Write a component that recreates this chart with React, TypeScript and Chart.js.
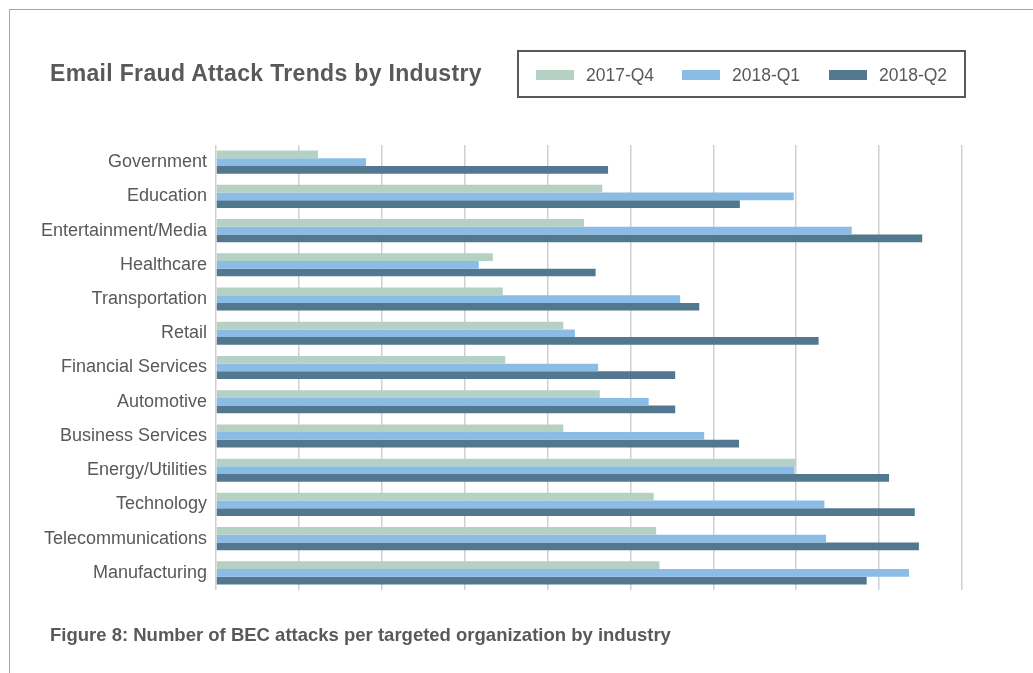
import React, { useEffect, useRef } from "react";
import { Chart, registerables } from "chart.js";

Chart.register(...registerables);

const categories = [
  "Government",
  "Education",
  "Entertainment/Media",
  "Healthcare",
  "Transportation",
  "Retail",
  "Financial Services",
  "Automotive",
  "Business Services",
  "Energy/Utilities",
  "Technology",
  "Telecommunications",
  "Manufacturing",
];

const seriesNames = ["2017-Q4", "2018-Q1", "2018-Q2"];
const seriesColors = ["#B5D1C3", "#8ABCE6", "#51788F"];

const q4_2017 = [1.23, 4.66, 4.44, 3.34, 3.46, 4.19, 3.49, 4.63, 4.19, 7.0, 5.28, 5.31, 5.35];
const q1_2018 = [1.81, 6.97, 7.67, 3.17, 5.6, 4.33, 4.61, 5.22, 5.89, 6.98, 7.34, 7.36, 8.36];
const q2_2018 = [4.73, 6.32, 8.52, 4.58, 5.83, 7.27, 5.54, 5.54, 6.31, 8.12, 8.43, 8.48, 7.85];

const xMin = 0;
const xMax = 9;

const titleText = "Email Fraud Attack Trends by Industry";
const captionText = "Figure 8: Number of BEC attacks per targeted organization by industry";

const FONT = "'Liberation Sans', Arial, Helvetica, sans-serif";

export default function App() {
  const canvasRef = useRef<HTMLCanvasElement | null>(null);

  useEffect(() => {
    const canvas = canvasRef.current;
    if (!canvas) return;
    const values = [q4_2017, q1_2018, q2_2018];
    const chart = new Chart(canvas, {
      type: "bar",
      data: {
        labels: categories,
        datasets: seriesNames.map((name, i) => ({
          label: name,
          data: values[i],
          backgroundColor: seriesColors[i],
          borderWidth: 0,
          categoryPercentage: 0.675,
          barPercentage: 1.0,
        })),
      },
      options: {
        indexAxis: "y",
        responsive: false,
        animation: false,
        devicePixelRatio: 1,
        layout: { padding: { top: 145, bottom: 83, right: 71, left: 0 } },
        plugins: {
          legend: { display: false },
          tooltip: { enabled: false },
          title: { display: false },
        },
        scales: {
          x: {
            type: "linear",
            min: xMin,
            max: xMax,
            position: "bottom",
            ticks: { display: false, stepSize: 1 },
            grid: { color: "#d0d0d0", lineWidth: 1.5, drawTicks: false },
            border: { display: false },
            afterFit: (scale: any) => {
              scale.height = 0;
            },
          },
          y: {
            type: "category",
            grid: { display: false, drawTicks: false },
            border: { display: false },
            ticks: {
              color: "#595959",
              padding: 9,
              font: { family: FONT, size: 18 },
            },
            afterFit: (scale: any) => {
              scale.width = 216;
            },
          },
        },
      },
    });
    return () => chart.destroy();
  }, []);

  return (
    <div
      style={{
        position: "fixed",
        left: 0,
        top: 0,
        width: 1033,
        height: 673,
        background: "#ffffff",
        overflow: "hidden",
        fontFamily: FONT,
      }}
    >
      <div
        style={{
          position: "absolute",
          left: 9,
          top: 9,
          right: -5,
          bottom: -5,
          borderTop: "1px solid #a6a6a6",
          borderLeft: "1px solid #a6a6a6",
        }}
      />
      <canvas
        ref={canvasRef}
        width={1033}
        height={673}
        style={{ position: "absolute", left: 0, top: 0, width: 1033, height: 673 }}
      />
      <div
        style={{
          position: "absolute",
          left: 50,
          top: 60,
          fontSize: 23,
          letterSpacing: "0.33px",
          fontWeight: "bold",
          color: "#595959",
          lineHeight: "26px",
          whiteSpace: "nowrap",
        }}
      >
        {titleText}
      </div>
      <div
        style={{
          position: "absolute",
          left: 517,
          top: 50,
          width: 449,
          height: 48,
          boxSizing: "border-box",
          border: "2px solid #595959",
        }}
      >
        {seriesNames.map((name, i) => (
          <div
            key={name}
            style={{
              position: "absolute",
              left: [17, 163, 310][i],
              top: 12,
              height: 22,
              display: "flex",
              alignItems: "center",
              whiteSpace: "nowrap",
            }}
          >
            <span
              style={{
                display: "inline-block",
                width: 38,
                height: 10,
                background: seriesColors[i],
                marginRight: 12,
              }}
            />
            <span style={{ fontSize: 17.5, color: "#595959" }}>{name}</span>
          </div>
        ))}
      </div>
      <div
        style={{
          position: "absolute",
          left: 50,
          top: 624,
          fontSize: 18.5,
          fontWeight: "bold",
          color: "#595959",
          lineHeight: "22px",
          whiteSpace: "nowrap",
        }}
      >
        {captionText}
      </div>
    </div>
  );
}
